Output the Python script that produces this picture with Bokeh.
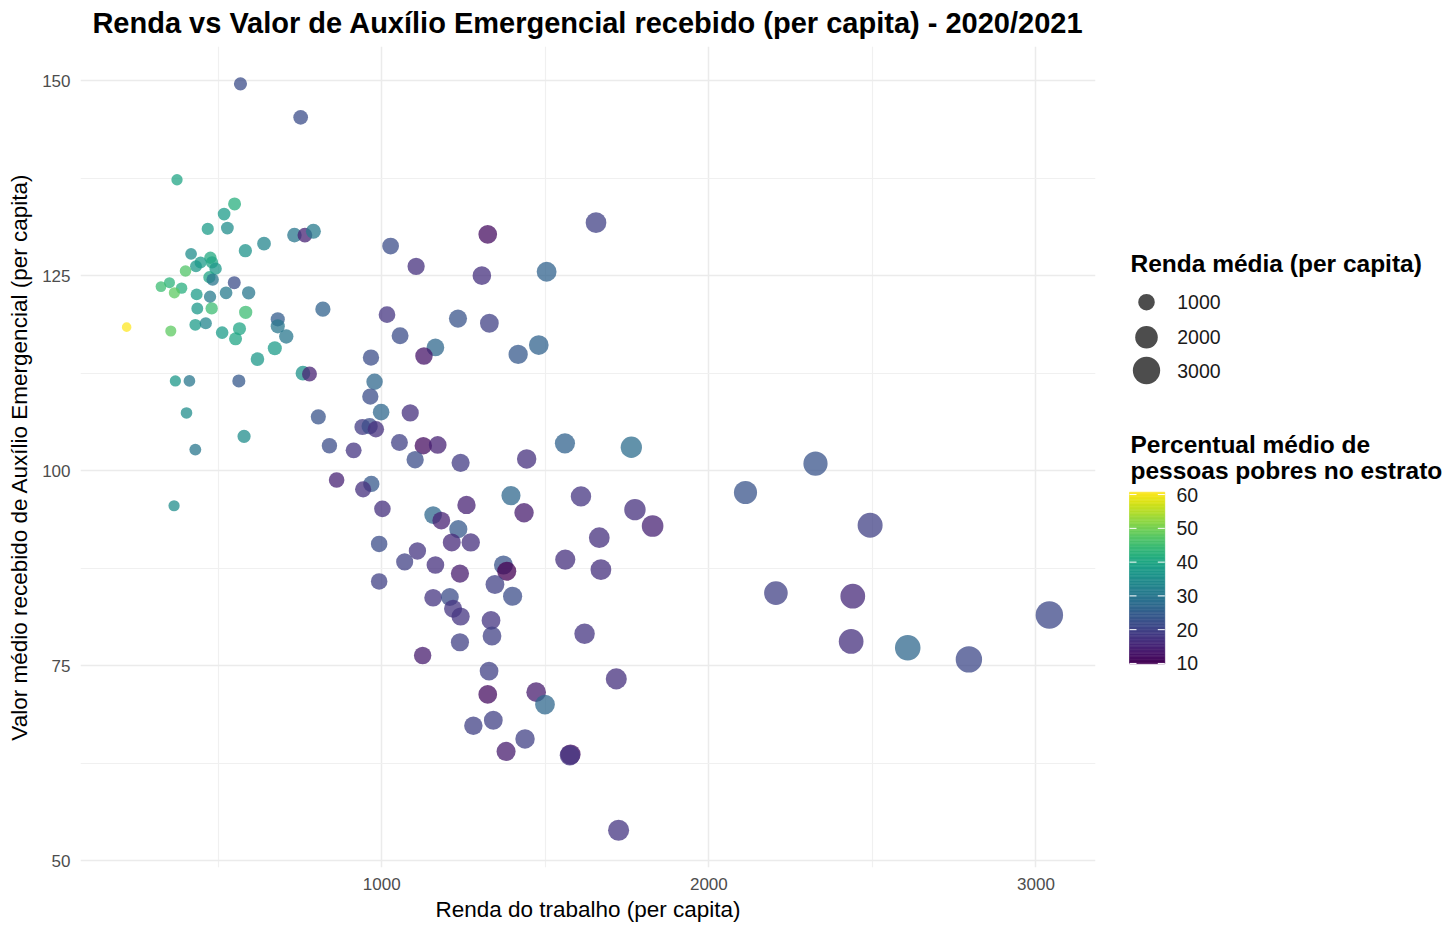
import numpy as np
from bokeh.plotting import figure
from bokeh.models import Range1d, FixedTicker, ColumnDataSource
from bokeh.transform import linear_cmap
from bokeh.palettes import Viridis256
from bokeh.layouts import row
from bokeh.core.properties import value
from bokeh.embed import file_html
from bokeh.resources import INLINE

# ---------------- data ----------------
renda_trabalho = [
    374, 550, 518, 468, 528, 733, 765, 791, 640, 583, 417, 476, 446, 432, 481, 492, 400, 473, 483, 549,
    351, 325, 388, 366, 524, 593, 434, 475, 820, 436, 480, 584, 682, 682, 708, 220, 355, 430, 462, 512,
    565, 553, 673, 620, 759, 779, 369, 412, 563, 403, 806, 579, 430, 840, 914, 862, 365, 568, 752,
    1027, 1324, 1105, 1306, 1504, 1016, 1233, 1329, 1056, 1164, 1129, 1417, 1480, 967, 978, 965, 998,
    1087, 941, 963, 982, 1054, 1127, 1171, 1102, 1241, 1443, 1560, 1655, 1763, 968, 943, 1002, 1157,
    1182, 1259, 1234, 1214, 1272, 1395, 1435, 1609, 992, 1109, 1070, 1164, 1239, 1372, 1382, 1346, 1400,
    992, 1157, 1208, 1218, 1241, 1334, 1337, 1239, 1125, 1620, 1665, 1670, 1561, 1774, 1828, 1328, 1324,
    1472, 1499, 1717, 1280, 1341, 1438, 1380, 1577, 1575, 1724,
    2112, 2205, 2326, 2493, 2440, 2435, 2608, 2795, 3041,
]
auxilio = [
    137.3, 134.2, 132.9, 131.0, 131.1, 130.2, 130.2, 130.7, 129.1, 128.2, 127.8, 127.3, 126.7, 126.2, 126.7, 125.9, 125.6, 124.8, 124.5, 124.1,
    124.1, 123.6, 123.4, 122.8, 122.8, 122.8, 122.6, 122.3, 120.7, 120.8, 120.8, 120.3, 119.4, 118.5, 117.2, 118.4, 117.9, 118.7, 118.9, 117.7,
    118.2, 116.9, 115.7, 114.3, 112.5, 112.4, 111.5, 111.5, 111.5, 107.4, 106.9, 104.4, 102.7, 103.2, 102.6, 98.8, 95.5, 149.6, 145.3,
    128.8, 130.3, 126.2, 125.0, 125.5, 120.0, 119.5, 118.9, 117.3, 115.8, 114.7, 114.9, 116.1, 114.5, 111.4, 109.5, 107.5,
    107.4, 105.6, 105.7, 105.3, 103.6, 103.2, 103.3, 101.4, 101.0, 101.5, 103.5, 131.8, 103.0, 98.3, 97.6, 95.1, 94.3,
    93.6, 95.6, 92.5, 90.8, 90.8, 96.8, 94.6, 96.7, 90.6, 89.7, 88.3, 87.9, 86.8, 87.9, 87.1, 85.4, 83.9,
    85.8, 83.7, 83.8, 82.3, 81.3, 80.8, 78.8, 78.0, 76.3, 79.1, 91.4, 87.3, 88.6, 95.0, 92.9, 74.3, 71.3,
    71.6, 70.0, 73.3, 67.3, 68.0, 65.6, 64.0, 63.6, 63.5, 53.9,
    97.2, 84.3, 100.9, 93.0, 83.9, 78.1, 77.3, 75.8, 81.5,
]
pct_pobres = [
    40, 42, 38, 38, 35, 30, 15, 31, 33, 36, 35, 41, 38, 37, 40, 37, 47, 40, 30, 22,
    43, 45, 42, 48, 31, 30, 38, 31, 26, 37, 45, 45, 25, 30, 30, 60.7, 48, 38, 33, 38,
    40, 40, 38, 37, 36, 15, 37, 30, 24, 35, 23, 35, 30, 22, 18, 15, 35, 22, 22,
    22, 12, 17, 17, 26, 18, 23, 20, 22, 27, 13, 24, 26, 22, 27, 22, 27,
    17, 19, 22, 17, 20, 12, 15, 22, 19, 17, 26, 20, 28, 24, 17, 17, 27,
    15, 15, 24, 16, 17, 27, 14, 18, 22, 18, 20, 17, 14, 23, 9.9, 20, 22,
    20, 18, 22, 18, 18, 18, 20, 20, 14, 18, 17, 17, 17, 17, 15, 20, 12,
    14, 27, 17, 20, 20, 20, 14, 12, 18, 18,
    23, 20, 23, 20, 16, 17, 27, 21, 21,
]

size_legend_values = [1000, 2000, 3000]
size_legend_labels = ["1000", "2000", "3000"]
colorbar_ticks = [10, 20, 30, 40, 50, 60]
x_ticks = [1000, 2000, 3000]
x_minor_ticks = [500, 1500, 2500]
y_ticks = [50, 75, 100, 125, 150]
y_minor_ticks = [62.5, 87.5, 112.5, 137.5]

title_text = "Renda vs Valor de Auxílio Emergencial recebido (per capita) - 2020/2021"
x_label = "Renda do trabalho (per capita)"
y_label = "Valor médio recebido de Auxílio Emergencial (per capita)"
size_title = "Renda média (per capita)"
color_title = ["Percentual médio de", "pessoas pobres no estrato"]

FONT = "Liberation Sans"

# layout (pixels)
H = 925
FRAME_TOP, FRAME_BOTTOM = 46, 867
MAIN_W, LEG_W = 1108, 340


def point_size(v):
    return np.sqrt(40 + 0.235 * np.asarray(v, dtype=float))


vmin, vmax = min(pct_pobres), max(pct_pobres)
mapper = dict(palette=Viridis256, low=vmin, high=vmax)

# ranges with 5% expansion (ggplot style)
xr = max(renda_trabalho) - min(renda_trabalho)
yr = max(auxilio) - min(auxilio)
x0, x1 = min(renda_trabalho) - 0.05 * xr, max(renda_trabalho) + 0.05 * xr
y0, y1 = min(auxilio) - 0.05 * yr, max(auxilio) + 0.05 * yr

# ---------------- main figure ----------------
p = figure(width=MAIN_W, height=H, x_range=Range1d(x0, x1), y_range=Range1d(y0, y1),
           output_backend="svg", toolbar_location=None,
           min_border_left=80, min_border_right=13, min_border_top=FRAME_TOP,
           min_border_bottom=H - FRAME_BOTTOM)
p.outline_line_color = None
p.background_fill_color = "white"
p.border_fill_color = "white"

p.title.text = title_text
p.title.align = "center"
p.title.vertical_align = "top"
p.title.text_font = FONT
p.title.text_font_size = "29px"
p.title.text_font_style = "bold"
p.title.text_color = "#000000"
p.title.standoff = 11

p.xaxis.ticker = FixedTicker(ticks=x_ticks, minor_ticks=x_minor_ticks)
p.yaxis.ticker = FixedTicker(ticks=y_ticks, minor_ticks=y_minor_ticks)
for ax in (p.xaxis, p.yaxis):
    ax.axis_line_color = None
    ax.major_tick_line_color = None
    ax.minor_tick_line_color = None
    ax.major_tick_out = 0
    ax.major_tick_in = 0
    ax.minor_tick_out = 0
    ax.major_label_text_font = FONT
    ax.major_label_text_font_size = "17px"
    ax.major_label_text_color = "#4d4d4d"
    ax.axis_label_text_font = FONT
    ax.axis_label_text_font_size = "22.5px"
    ax.axis_label_text_font_style = "normal"
    ax.axis_label_text_color = "#000000"
p.xaxis.axis_label = x_label
p.yaxis.axis_label = y_label
p.xaxis.major_label_standoff = 10
p.xaxis.axis_label_standoff = 4
p.yaxis.major_label_standoff = 10
p.yaxis.axis_label_standoff = 7

for g in (p.xgrid, p.ygrid):
    g.grid_line_color = "#ebebeb"
    g.grid_line_width = 1.5
    g.minor_grid_line_color = "#f0f0f0"
    g.minor_grid_line_width = 1.2

src = ColumnDataSource(dict(x=renda_trabalho, y=auxilio, pct=pct_pobres,
                            size=point_size(renda_trabalho)))
p.scatter(x="x", y="y", size="size", source=src,
          fill_color=linear_cmap("pct", **mapper), fill_alpha=0.75, line_color=None)

# ---------------- legend figure (y in page pixels, frame aligned with main) ----------------
lf = figure(width=LEG_W, height=H, x_range=Range1d(0, LEG_W),
            y_range=Range1d(FRAME_BOTTOM, FRAME_TOP),
            x_axis_type=None, y_axis_type=None, output_backend="svg", toolbar_location=None,
            min_border_left=0, min_border_right=0, min_border_top=FRAME_TOP,
            min_border_bottom=H - FRAME_BOTTOM)
lf.outline_line_color = None
lf.grid.visible = False
lf.background_fill_color = "white"
lf.border_fill_color = "white"

# size legend
lf.text(x=[22], y=[263.3], text=[size_title], text_font=value(FONT), text_font_style="bold",
        text_font_size="24.5px", text_baseline="middle", text_align="left", text_color="#000000")
key_y = [301.7, 336.7, 370.0]
lf.scatter(x=[38] * 3, y=key_y, size=point_size(size_legend_values), fill_color="#4d4d4d",
           line_color=None)
lf.text(x=[68.7] * 3, y=key_y, text=size_legend_labels, text_font=value(FONT),
        text_font_size="19.5px", text_baseline="middle", text_align="left", text_color="#1a1a1a")

# colour legend title
lf.text(x=[22, 22], y=[443.5, 469.5], text=color_title, text_font=value(FONT), text_font_style="bold",
        text_font_size="24.5px", text_baseline="middle", text_align="left", text_color="#000000")

# colour bar on its own value range
bar_top_px, bar_bot_px = 491.7, 663.3
upp = (vmax - vmin) / (bar_bot_px - bar_top_px)
lf.extra_y_ranges = {"cb": Range1d(vmin - (FRAME_BOTTOM - bar_bot_px) * upp,
                                   vmax + (bar_top_px - FRAME_TOP) * upp)}
edges = np.linspace(vmin, vmax, 121)
cb_src = ColumnDataSource(dict(mid=(edges[:-1] + edges[1:]) / 2, bottom=edges[:-1], top=edges[1:]))
lf.quad(left=21, right=56.3, bottom="bottom", top="top", source=cb_src,
        fill_color=linear_cmap("mid", **mapper), line_color=linear_cmap("mid", **mapper),
        line_width=0.6, y_range_name="cb")
lf.segment(x0=[21] * len(colorbar_ticks), x1=[28] * len(colorbar_ticks), y0=colorbar_ticks,
           y1=colorbar_ticks, line_color="white", line_width=1, y_range_name="cb")
lf.segment(x0=[49.3] * len(colorbar_ticks), x1=[56.3] * len(colorbar_ticks), y0=colorbar_ticks,
           y1=colorbar_ticks, line_color="white", line_width=1, y_range_name="cb")
lf.text(x=[68] * len(colorbar_ticks), y=colorbar_ticks, text=[str(t) for t in colorbar_ticks],
        text_font=value(FONT), text_font_size="19.5px", text_baseline="middle", text_align="left",
        text_color="#1a1a1a", y_range_name="cb")

layout = row(p, lf, spacing=0)
open("out.html", "w").write(file_html(layout, INLINE))
